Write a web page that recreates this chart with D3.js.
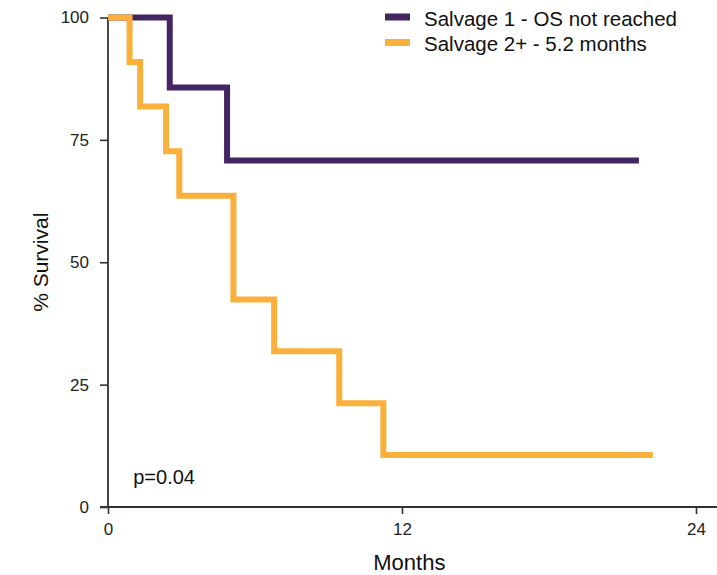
<!DOCTYPE html>
<html>
<head>
<meta charset="utf-8">
<script src="https://cdn.jsdelivr.net/npm/d3@7"></script>
<style>
  html, body { margin: 0; padding: 0; background: #fff; }
  svg { display: block; font-family: "Liberation Sans", Arial, Helvetica, sans-serif; }
</style>
</head>
<body>
<svg id="chart" width="717" height="575"></svg>
<script>
// Kaplan–Meier overall survival by salvage line
const seriesNames = ["Salvage 1 - OS not reached", "Salvage 2+ - 5.2 months"];
const seriesColors = ["#432562", "#fbb03b"];

// step times (months) and survival (%) for each curve
const salvage1Months   = [0, 2.52, 4.86, 21.67];
const salvage1Survival = [100, 85.7, 70.8, 70.8];
const salvage2Months   = [0, 0.88, 1.31, 2.37, 2.91, 5.12, 6.78, 9.44, 11.24, 22.24];
const salvage2Survival = [100, 90.9, 81.8, 72.7, 63.6, 42.4, 31.8, 21.2, 10.6, 10.6];

const xTicks = [0, 12, 24];
const yTicks = [0, 25, 50, 75, 100];
const pValueLabel = "p=0.04";

const svg = d3.select("#chart");
const W = 717, H = 575;
const margin = { left: 108, right: 21, top: 17.5, bottom: 68 };

const x = d3.scaleLinear().domain([0, 24]).range([margin.left, W - margin.right]);
const y = d3.scaleLinear().domain([0, 100]).range([H - margin.bottom, margin.top]);

const axisColor = "#333";

// y axis
const yAxis = svg.append("g")
  .attr("transform", `translate(${x(0)},0)`)
  .call(d3.axisLeft(y).tickValues(yTicks).tickSize(8).tickPadding(11));
yAxis.select(".domain").remove();
yAxis.selectAll(".tick line").attr("stroke", axisColor).attr("stroke-width", 1.6);
yAxis.selectAll(".tick text")
  .attr("fill", "#222").style("font-size", "17px")
  .style("font-family", "'Liberation Sans', Arial, sans-serif");
yAxis.append("line")
  .attr("x1", 0).attr("x2", 0)
  .attr("y1", y(100)).attr("y2", y(0))
  .attr("stroke", axisColor).attr("stroke-width", 1.8);

// x axis
const xAxis = svg.append("g")
  .attr("transform", `translate(0,${y(0)})`)
  .call(d3.axisBottom(x).tickValues(xTicks).tickSize(7).tickPadding(9));
xAxis.select(".domain").remove();
xAxis.selectAll(".tick line").attr("stroke", axisColor).attr("stroke-width", 1.6);
xAxis.selectAll(".tick text")
  .attr("fill", "#222").style("font-size", "17px")
  .style("font-family", "'Liberation Sans', Arial, sans-serif");
xAxis.append("line")
  .attr("x1", x(0) - 8).attr("x2", W)
  .attr("y1", 0).attr("y2", 0)
  .attr("stroke", axisColor).attr("stroke-width", 1.8);

// axis titles
svg.append("text")
  .attr("x", x(12.3))
  .attr("y", 570)
  .attr("text-anchor", "middle")
  .style("font-size", "22px")
  .attr("fill", "#111")
  .text("Months");

svg.append("text")
  .attr("transform", `translate(48,${(y(0) + y(100)) / 2}) rotate(-90)`)
  .attr("text-anchor", "middle")
  .style("font-size", "21px")
  .attr("fill", "#111")
  .text("% Survival");

// survival curves
const line = d3.line()
  .x(d => x(d[0]))
  .y(d => y(d[1]))
  .curve(d3.curveStepAfter);

const curves = [
  d3.zip(salvage1Months, salvage1Survival),
  d3.zip(salvage2Months, salvage2Survival)
];

svg.append("g").selectAll("path")
  .data(curves)
  .join("path")
  .attr("d", line)
  .attr("fill", "none")
  .attr("stroke", (d, i) => seriesColors[i])
  .attr("stroke-width", 6)
  .attr("stroke-linejoin", "miter")
  .attr("stroke-linecap", "butt");

// p-value
svg.append("text")
  .attr("x", x(1.03))
  .attr("y", y(4.6))
  .style("font-size", "20px")
  .attr("fill", "#111")
  .text(pValueLabel);

// legend
const legend = svg.append("g").attr("transform", "translate(385,17)");
const items = legend.selectAll("g")
  .data(seriesNames)
  .join("g")
  .attr("transform", (d, i) => `translate(0,${i * 25.5})`);
items.append("rect")
  .attr("x", 0).attr("y", -3.5)
  .attr("width", 25).attr("height", 7)
  .attr("fill", (d, i) => seriesColors[i]);
items.append("text")
  .attr("x", 39).attr("y", 8.5)
  .style("font-size", "20.5px")
  .attr("fill", "#111")
  .text(d => d);
</script>
</body>
</html>
